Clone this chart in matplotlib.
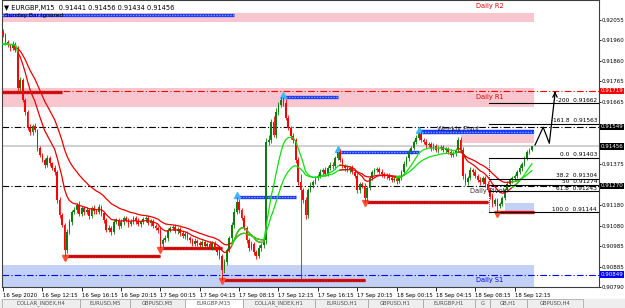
import numpy as np
import matplotlib
matplotlib.use("Agg")
import matplotlib.pyplot as plt
import matplotlib.transforms as mtransforms
from matplotlib.patches import Rectangle

# ---------------- data (prices in points above 0.90000) ----------------
first_open_pts = 2000
closes_pts = [
    1984, 1951, 1937, 1922, 1941, 1913, 1733, 1771, 1676, 1619,
    1543, 1524, 1553, 1534, 1448, 1415, 1392, 1368, 1401, 1377,
    1354, 1335, 1202, 1131, 1083, 965, 1050, 1098, 1145, 1155,
    1178, 1136, 1164, 1145, 1155, 1126, 1164, 1150, 1145, 1169,
    1140, 1107, 1060, 1069, 1050, 1098, 1107, 1079, 1098, 1117,
    1107, 1088, 1098, 1117, 1102, 1088, 1098, 1112, 1117, 1093,
    1102, 1079, 1069, 1060, 993, 1012, 1022, 1060, 1069, 1074,
    1055, 1065, 1046, 1031, 1041, 1022, 1012, 993, 1008, 998,
    989, 1003, 984, 993, 979, 998, 974, 956, 937, 870,
    908, 965, 1022, 1083, 1145, 1193, 1155, 1117, 1069, 1012,
    974, 993, 956, 937, 974, 989, 1012, 1477, 1486, 1572,
    1510, 1619, 1652, 1676, 1662, 1591, 1543, 1505, 1486, 1392,
    1287, 1249, 1202, 1131, 1249, 1273, 1287, 1306, 1316, 1335,
    1344, 1325, 1354, 1368, 1363, 1401, 1430, 1392, 1363, 1354,
    1344, 1354, 1335, 1316, 1249, 1278, 1268, 1211, 1259, 1306,
    1335, 1344, 1349, 1335, 1325, 1316, 1320, 1306, 1297, 1302,
    1292, 1306, 1335, 1373, 1401, 1430, 1448, 1477, 1496, 1515,
    1486, 1477, 1463, 1467, 1448, 1458, 1439, 1448, 1453, 1439,
    1444, 1430, 1415, 1425, 1439, 1486, 1439, 1316, 1287, 1306,
    1344, 1335, 1316, 1297, 1287, 1306, 1278, 1249, 1221, 1183,
    1202, 1174, 1183, 1211, 1249, 1278, 1297, 1306, 1316, 1335,
    1354, 1373, 1401, 1430, 1441, 1456,
]
wick_hi = [
    12, 8, 10, 6, 14, 9, 20, 15, 8, 10,
    12, 18, 10, 14, 7, 9, 12, 8, 15, 10,
    6, 12, 9, 14, 10, 8, 16, 12, 9, 14,
    10, 18, 8, 12, 15, 9, 11, 14, 8, 12,
    10, 7, 12, 15, 9, 14, 10, 8, 13, 11,
    9, 12, 14, 8, 10, 13, 9, 12, 10, 15,
    8, 11, 9, 12, 14, 10, 16, 9, 12, 8,
    13, 10, 9, 14, 8, 12, 10, 9, 15, 11,
    8, 12, 10, 9, 13, 11, 8, 10, 12, 9,
    14, 12, 10, 15, 18, 25, 12, 9, 14, 10,
    12, 15, 8, 10, 13, 9, 11, 20, 25, 15,
    30, 18, 14, 12, 14, 20, 16, 12, 15, 10,
    14, 38, 12, 16, 10, 14, 12, 9, 11, 13,
    10, 14, 9, 12, 15, 11, 2, 12, 10, 9,
    13, 10, 12, 9, 14, 11, 10, 13, 9, 12,
    10, 8, 11, 9, 12, 10, 8, 11, 9, 12,
    10, 14, 9, 12, 10, 13, 11, 9, 12, 9,
    14, 10, 12, 9, 11, 13, 10, 9, 12, 10,
    11, 9, 13, 10, 12, 15, 16, 14, 12, 10,
    13, 9, 12, 10, 14, 11, 9, 12, 10, 13,
    11, 9, 12, 10, 9, 12, 10, 8, 11, 9,
    12, 10, 9, 11, 8, 0,
]
wick_lo = [
    10, 12, 9, 14, 8, 11, 18, 12, 10, 14,
    9, 12, 15, 10, 13, 9, 11, 14, 10, 12,
    8, 13, 15, 12, 10, 30, 14, 9, 12, 10,
    13, 9, 11, 14, 10, 12, 9, 13, 11, 10,
    12, 14, 10, 9, 13, 11, 10, 14, 9, 12,
    10, 13, 9, 11, 12, 10, 14, 9, 12, 10,
    13, 9, 11, 12, 18, 14, 10, 12, 9, 11,
    10, 13, 12, 9, 14, 10, 12, 11, 9, 13,
    12, 10, 14, 9, 11, 13, 10, 12, 14, 45,
    16, 12, 10, 14, 12, 10, 13, 11, 9, 14,
    12, 10, 15, 13, 9, 12, 14, 16, 12, 14,
    10, 13, 12, 9, 14, 12, 10, 13, 12, 15,
    14, 427, 16, 20, 13, 10, 12, 9, 11, 10,
    12, 9, 11, 10, 13, 12, 9, 11, 10, 12,
    9, 13, 11, 10, 14, 12, 10, 16, 12, 11,
    10, 12, 9, 11, 13, 10, 12, 9, 11, 10,
    12, 10, 9, 11, 10, 12, 9, 11, 10, 9,
    11, 10, 12, 9, 13, 10, 11, 12, 9, 10,
    12, 10, 11, 9, 12, 10, 9, 14, 16, 12,
    10, 12, 9, 11, 13, 10, 12, 11, 14, 12,
    10, 30, 12, 9, 11, 10, 9, 12, 10, 11,
    9, 12, 10, 11, 9, 7,
]

ma_seed = 0.91935
ma_fast_span = 11
ma_slow_span = 24
# colour regimes of the MA pair (start bar, end bar, colour)
ma_regimes = [(0, 6, "g"), (6, 106, "r"), (93, 141, "g"), (137, 163, "r"),
              (160, 188, "g"), (185, 210, "r"), (207, 215, "g")]

time_label_bars = [0, 16, 32, 48, 64, 80, 96, 112, 128, 144, 160, 176, 192, 208]
time_labels = ["16 Sep 2020", "16 Sep 12:15", "16 Sep 16:15", "16 Sep 20:15",
               "17 Sep 00:15", "17 Sep 04:15", "17 Sep 08:15", "17 Sep 12:15",
               "17 Sep 16:15", "17 Sep 20:15", "18 Sep 00:15", "18 Sep 04:15",
               "18 Sep 08:15", "18 Sep 12:15"]

ytick_vals = [0.92055, 0.91960, 0.91860, 0.91765, 0.91665,
              0.91375, 0.91180, 0.91080, 0.90985, 0.90885, 0.90790]

# dash-dot level lines and price boxes
level_prices = [0.91719, 0.91549, 0.91270, 0.90849]
level_colors = ["#ff0000", "#000000", "#000000", "#0000ff"]
box_prices = [0.91719, 0.91549, 0.91456, 0.91270, 0.90849]
box_colors = ["#ff0000", "#000000", "#000000", "#000000", "#0000ff"]
bid_price = 0.91456

# pivot zones: (low, high, start bar, end bar, colour)
zones = [
    (0.92048, 0.92088, -1, 216, "#f9c6cf"),   # Daily R2
    (0.91643, 0.91733, -1, 216, "#f9c6cf"),   # Daily R1
    (0.90790, 0.90894, -1, 216, "#c3d1f6"),   # Daily S1
    (0.91472, 0.91512, 186, 216, "#f9c6cf"),  # weekly pivot zone
    (0.91138, 0.91190, 204, 216, "#c3d1f6"),  # daily pivot zone
]
zone_labels = [("Daily R2", 198, 0.92122, "#e00000"),
               ("Daily R1", 198, 0.91690, "#e00000"),
               ("Weekly Pivot", 185, 0.91540, "#202040"),
               ("Daily Pivot", 197, 0.91245, "#303030"),
               ("Daily S1", 198, 0.90825, "#0000e0")]

# fractal support / resistance lines: (start bar, end bar, price)
sr_red = [(-1, 24, 0.91715), (25, 64, 0.90935), (64, 89, 0.90975),
          (89, 147, 0.90825), (147, 197, 0.91195), (201, 216, 0.91144)]
sr_blue = [(-1, 94, 0.92079), (95, 119, 0.91218), (114, 136, 0.91690),
           (136, 169, 0.91432), (169, 216, 0.91524)]

fib_levels = ["-200", "-161.8", "0.0", "38.2", "50", "61.8", "100.0"]
fib_prices = [0.91662, 0.91563, 0.91403, 0.91304, 0.91274, 0.91243, 0.91144]
fib_start_bar = 197.5

proj_bars = [216.3, 219.6, 222.1, 224.4]
proj_prices = [0.91463, 0.91547, 0.91471, 0.91705]

tab_names = ["DOLLAR_INDEX,H4", "EURUSD,M5", "GBPUSD,M5", "EURGBP,M15",
             "DOLLAR_INDEX,H1", "EURUSD,H1", "GBPUSD,H1", "EURGBP,H1",
             "G", "GB,H1", "GBPUSD,H4"]
tab_edges = [2, 80, 130, 185, 243, 315, 368, 423, 475, 490, 527, 583]
active_tab = 3

# ---------------- derived ----------------
closes = 0.9 + np.array(closes_pts) / 1e5
opens = np.concatenate([[0.9 + first_open_pts / 1e5], closes[:-1]])
highs = np.maximum(opens, closes) + np.array(wick_hi) / 1e5
lows = np.minimum(opens, closes) - np.array(wick_lo) / 1e5
n = len(closes)
xb = np.arange(n)


def ema(values, span, seed):
    a = 2.0 / (span + 1)
    out, v = [], seed
    for c in values:
        v = v + a * (c - v)
        out.append(v)
    return np.array(out)


ma_fast = ema(closes, ma_fast_span, ma_seed)
ma_slow = ema(closes, ma_slow_span, ma_seed)

# ---------------- figure ----------------
W, H = 625, 308
fig = plt.figure(figsize=(W / 100, H / 100), dpi=100)
fig.patch.set_facecolor("white")
ax = fig.add_axes([2 / W, 21 / H, 597 / W, 287 / H])
ax.set_xlim(-0.41, 242.3)
ax.set_ylim(0.90790, 0.92150)
ax.set_facecolor("white")

# zones
for lo, hi, s, e, c in zones:
    s = max(s, -0.41)
    ax.add_patch(Rectangle((s, lo), e - s, hi - lo, facecolor=c, edgecolor="none", zorder=0))

# levels
for p, c in zip(level_prices, level_colors):
    ax.axhline(p, color=c, lw=0.8, ls=(0, (6, 2, 1, 2)), zorder=1)
ax.axhline(bid_price, color="#c8c8c8", lw=1.2, zorder=1)

# S/R lines
for s, e, p in sr_red:
    ax.plot([max(s, -0.41), e], [p, p], color="#e01010", lw=2.4, solid_capstyle="butt", zorder=3)
    ax.plot([max(s, -0.41), e], [p, p], color="#901010", lw=1.0, ls=(0, (1, 1)), zorder=3)
    if s >= 0:
        ax.plot([s], [p - 0.00008], marker="v", ms=4, color="#ff5030", zorder=4)
for s, e, p in sr_blue:
    lw = 3.2 if s == 169 else 2.4
    ax.plot([max(s, -0.41), e], [p, p], color="#1838ff", lw=lw, solid_capstyle="butt", zorder=3)
    ax.plot([max(s, -0.41), e], [p, p], color="#80a0ff", lw=1.0, ls=(0, (1, 1)), zorder=3)
    if s >= 0:
        ax.plot([s], [p + 0.00010], marker="^", ms=4.5, color="#40b8ff", zorder=4)

# candles
bull = closes >= opens
wcol = np.where(bull, "#0a7d0a", "#ff0000")
ax.vlines(xb, lows, highs, colors=wcol, lw=0.6, zorder=5)
body_h = np.where(np.abs(closes - opens) < 0.000015, 0.000015, closes - opens)
ax.bar(xb, body_h, bottom=opens, width=0.7, color=wcol, edgecolor="none", zorder=5)

# moving averages
for s, e, c in ma_regimes:
    col = "#10e010" if c == "g" else "#ee0000"
    seg = slice(s, e + 1)
    ax.plot(xb[seg], ma_fast[seg], color=col, lw=0.9, zorder=6)
    ax.plot(xb[seg], ma_slow[seg], color=col, lw=0.9, zorder=6)

# fibonacci
for lvl, p in zip(fib_levels, fib_prices):
    ax.plot([fib_start_bar, 242.3], [p, p], color="black", lw=0.8, zorder=7)
    ax.text(241.5, p + 0.00002, f"{lvl}  {p:.5f}", fontsize=4.2, ha="right", va="bottom", zorder=8)
ax.plot([fib_start_bar, fib_start_bar], [fib_prices[2], fib_prices[-1]], color="black",
        lw=0.6, ls=(0, (1, 1.5)), zorder=7)

# projection
ax.plot(proj_bars, proj_prices, color="black", lw=0.9, zorder=8)
ax.annotate("", xy=(proj_bars[-1], proj_prices[-1] + 0.00012),
            xytext=(proj_bars[-1], proj_prices[-1] - 0.0001),
            arrowprops=dict(arrowstyle="->", color="black", lw=0.9, mutation_scale=8), zorder=8)

# zone labels
for t, b, p, c in zone_labels:
    ax.text(b, p, t, fontsize=4.8, color=c, ha="center", va="center", zorder=9)

# axes styling
for sp in ax.spines.values():
    sp.set_color("#404040")
    sp.set_linewidth(0.8)
ax.yaxis.tick_right()
ax.set_yticks(ytick_vals)
ax.set_yticklabels([f"{v:.5f}" for v in ytick_vals])
ax.tick_params(axis="y", length=1.5, width=0.6, labelsize=4.0, pad=0.6, colors="black")
ax.set_xticks(time_label_bars)
ax.set_xticklabels(time_labels, ha="left")
ax.tick_params(axis="x", length=3, width=0.6, labelsize=3.9, pad=1.5, colors="black")

trans = mtransforms.blended_transform_factory(ax.transAxes, ax.transData)
for p, c in zip(box_prices, box_colors):
    ax.text(1.0025, p, f"{p:.5f}", transform=trans, fontsize=4.0, color="white", ha="left",
            va="center", zorder=10, clip_on=False,
            bbox=dict(boxstyle="square,pad=0.1", facecolor=c, edgecolor="none"))

# header texts
fig.text(4 / W, 1 - 8 / H, "\u25bc EURGBP,M15  0.91441 0.91456 0.91434 0.91456", fontsize=4.8,
         ha="left", va="center")
fig.text(5 / W, 1 - 16 / H, "Sunday Bar ignored", fontsize=4.2, ha="left", va="center")

# bottom tabs
fig.add_artist(Rectangle((0, 0), 1, 9 / H, transform=fig.transFigure, facecolor="#eeeeee",
                         edgecolor="none"))
for i, name in enumerate(tab_names):
    x0, x1 = tab_edges[i], tab_edges[i + 1]
    fc = "white" if i == active_tab else "#eeeeee"
    fig.add_artist(Rectangle((x0 / W, 0), (x1 - x0) / W, 9 / H, transform=fig.transFigure,
                             facecolor=fc, edgecolor="#a0a0a0", lw=0.5))
    fig.text((x0 + x1) / 2 / W, 4.5 / H, name, fontsize=3.8, ha="center", va="center",
             color="#505050")

fig.savefig("out.png", dpi=100)
